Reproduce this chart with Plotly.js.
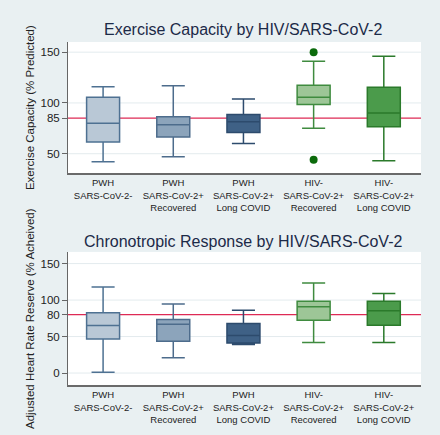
<!DOCTYPE html>
<html>
<head>
<meta charset="utf-8">
<script src="https://cdn.plot.ly/plotly-3.0.1.min.js"></script>
<style>
html,body{margin:0;padding:0;background:#e9f0f2;}
#chart{width:440px;height:435px;}
</style>
</head>
<body>
<div id="chart"></div>
<script>
// Categories (tick labels)
const categories = [
  'PWH<br>SARS-CoV-2-',
  'PWH<br>SARS-CoV-2+<br>Recovered',
  'PWH<br>SARS-CoV-2+<br>Long COVID',
  'HIV-<br>SARS-CoV-2+<br>Recovered',
  'HIV-<br>SARS-CoV-2+<br>Long COVID'
];

// Exercise Capacity (% Predicted)
const exLower  = [42, 47, 60, 75, 43];
const exQ1     = [61.5, 66.5, 71, 98.5, 76.5];
const exMedian = [80, 78.5, 81.5, 105.5, 90];
const exQ3     = [105.5, 86.5, 88.5, 117.5, 115.5];
const exUpper  = [116, 117, 104, 141, 146];
const exOutlierCat = [3, 3];
const exOutlierVal = [150, 44];
const exRef = 85;
const exTicks = [50, 85, 100, 150];
const exGrid = [50, 100, 150];

// Adjusted Heart Rate Reserve (% Acheived)
const hrLower  = [1, 21, 39, 42, 42];
const hrQ1     = [46.5, 43.5, 41, 72.5, 65.5];
const hrMedian = [65, 67, 51.5, 91, 85.5];
const hrQ3     = [82.5, 73.5, 68, 98.5, 98.5];
const hrUpper  = [118, 94.5, 86, 123.5, 109];
const hrRef = 80;
const hrTicks = [0, 50, 80, 100, 150];
const hrGrid = [0, 50, 100, 150];

const fills = ['#b9c8d6', '#8ca4bb', '#3f6186', '#9dc697', '#4b9b4b'];
const lines = ['#4e7192', '#4d6c8c', '#2d4b6d', '#3f8b3f', '#2b7a2b'];

const traces = [];
function addBoxes(lower, q1, med, q3, upper, xa, ya) {
  for (let i = 0; i < categories.length; i++) {
    traces.push({
      type: 'box',
      x: [categories[i]],
      lowerfence: [lower[i]], q1: [q1[i]], median: [med[i]], q3: [q3[i]], upperfence: [upper[i]],
      xaxis: xa, yaxis: ya,
      fillcolor: fills[i],
      line: {color: lines[i], width: 1.5},
      width: 0.47,
      whiskerwidth: 0.7,
      boxpoints: false,
      showlegend: false,
      hoverinfo: 'skip'
    });
  }
}
addBoxes(exLower, exQ1, exMedian, exQ3, exUpper, 'x', 'y');
addBoxes(hrLower, hrQ1, hrMedian, hrQ3, hrUpper, 'x2', 'y2');

traces.push({
  type: 'scatter', mode: 'markers',
  x: exOutlierCat.map(i => categories[i]), y: exOutlierVal,
  xaxis: 'x', yaxis: 'y',
  marker: {color: '#0b6a0b', size: 8},
  showlegend: false, hoverinfo: 'skip'
});

const font = 'Arial, "Liberation Sans", sans-serif';
const xRange = [-0.5, 4.53];
const xCommon = {
  type: 'category', categoryarray: categories, categoryorder: 'array',
  range: xRange, showline: true, linecolor: '#6a6a6a', linewidth: 2,
  ticks: '', showgrid: false, zeroline: false,
  tickfont: {family: font, size: 9.5, color: '#222'}, fixedrange: true
};
const yCommon = {
  showline: true, linecolor: '#666', linewidth: 1,
  ticks: 'outside', ticklen: 5, tickcolor: '#666',
  showgrid: false, zeroline: false,
  tickfont: {family: font, size: 11.5, color: '#222'}, fixedrange: true
};

const shapes = [];
function addGrid(vals, xr, yr) {
  vals.forEach(v => shapes.push({type: 'line', xref: xr, yref: yr, x0: xRange[0], x1: xRange[1], y0: v, y1: v,
    line: {color: '#e3ebee', width: 1}, layer: 'below'}));
}
addGrid(exGrid, 'x', 'y');
addGrid(hrGrid, 'x2', 'y2');
shapes.push({type: 'line', xref: 'x', yref: 'y', x0: xRange[0], x1: xRange[1], y0: exRef, y1: exRef,
  line: {color: '#de2a55', width: 1.3}, layer: 'below'});
shapes.push({type: 'line', xref: 'x2', yref: 'y2', x0: xRange[0], x1: xRange[1], y0: hrRef, y1: hrRef,
  line: {color: '#de2a55', width: 1.3}, layer: 'below'});

const layout = {
  width: 440, height: 435,
  paper_bgcolor: '#e9f0f2', plot_bgcolor: '#ffffff',
  margin: {l: 68, r: 19, t: 42, b: 50},
  boxmode: 'overlay',
  showlegend: false,
  xaxis: Object.assign({}, xCommon, {domain: [0, 1], anchor: 'y'}),
  yaxis: Object.assign({}, yCommon, {domain: [0.618, 1], anchor: 'x', range: [31, 160], tickvals: exTicks}),
  xaxis2: Object.assign({}, xCommon, {domain: [0, 1], anchor: 'y2'}),
  yaxis2: Object.assign({}, yCommon, {domain: [0, 0.388], anchor: 'x2', range: [-16.4, 166], tickvals: hrTicks}),
  shapes: shapes,
  annotations: [
    {text: 'Exercise Capacity by HIV/SARS-CoV-2', xref: 'paper', yref: 'paper',
     x: 0.497, y: 1.035, xanchor: 'center', yanchor: 'middle', showarrow: false,
     font: {family: font, size: 16, color: '#1c2a48'}},
    {text: 'Chronotropic Response by HIV/SARS-CoV-2', xref: 'paper', yref: 'paper',
     x: 0.497, y: 0.418, xanchor: 'center', yanchor: 'middle', showarrow: false,
     font: {family: font, size: 16, color: '#1c2a48'}},
    {text: 'Exercise Capacity (% Predicted)', xref: 'paper', yref: 'paper',
     x: -0.108, y: 0.81, xanchor: 'center', yanchor: 'middle', showarrow: false, textangle: -90,
     font: {family: font, size: 11.5, color: '#222'}},
    {text: 'Adjusted Heart Rate Reserve (% Acheived)', xref: 'paper', yref: 'paper',
     x: -0.108, y: 0.195, xanchor: 'center', yanchor: 'middle', showarrow: false, textangle: -90,
     font: {family: font, size: 11.5, color: '#222'}}
  ]
};

Plotly.newPlot('chart', traces, layout, {displayModeBar: false, staticPlot: true});
</script>
</body>
</html>
